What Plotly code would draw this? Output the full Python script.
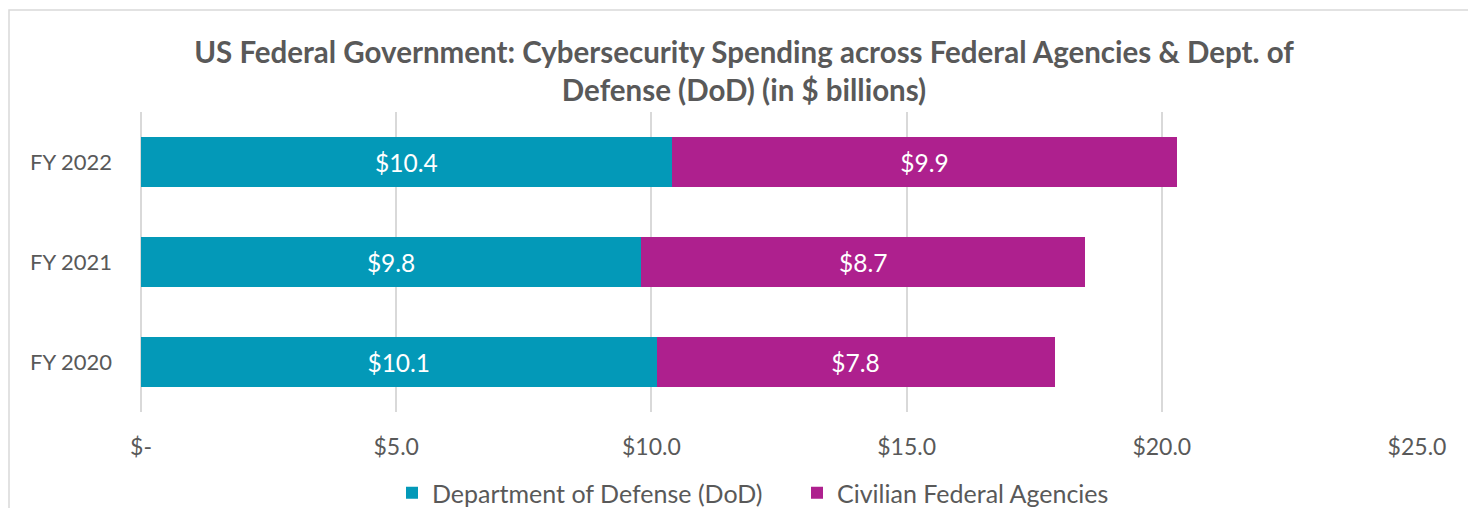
import plotly.graph_objects as go

categories = ["FY 2020", "FY 2021", "FY 2022"]
dod_values = [10.1, 9.8, 10.4]
civilian_values = [7.8, 8.7, 9.9]
series_names = ["Department of Defense (DoD)", "Civilian Federal Agencies"]
tick_values = [0, 5, 10, 15, 20, 25]
tick_labels = ["$-", "$5.0", "$10.0", "$15.0", "$20.0", "$25.0"]
title_text = "US Federal Government: Cybersecurity Spending across Federal Agencies & Dept. of<br>Defense (DoD) (in $ billions)"

FONT = "Lato"
GRAY = "#595959"
TEAL = "#0399B8"
MAGENTA = "#AE208E"

fig = go.Figure()
fig.add_trace(go.Bar(
    y=categories, x=dod_values, name=series_names[0], orientation="h",
    marker=dict(color=TEAL, line=dict(width=0)),
    text=[f"${v:.1f}" for v in dod_values], textposition="inside",
    insidetextanchor="middle", textfont=dict(color="white", size=24.5, family=FONT),
    width=0.5,
))
fig.add_trace(go.Bar(
    y=categories, x=civilian_values, name=series_names[1], orientation="h",
    marker=dict(color=MAGENTA, line=dict(width=0)),
    text=[f"${v:.1f}" for v in civilian_values], textposition="inside",
    insidetextanchor="middle", textfont=dict(color="white", size=24.5, family=FONT),
    width=0.5,
))

L, R, T, B = 141, 51, 112, 96
W, H = 1468, 508
pw, ph = W - L - R, H - T - B

fig.update_layout(
    width=W, height=H,
    margin=dict(l=L, r=R, t=T, b=B, autoexpand=False),
    barmode="stack",
    plot_bgcolor="white", paper_bgcolor="white",
    font=dict(family=FONT, color=GRAY, size=20),
    title=dict(text=title_text, x=744 / W, xanchor="center", y=1 - 63 / H, yanchor="middle",
               font=dict(family=FONT, size=29.5, color=GRAY, weight="bold")),
    xaxis=dict(range=[0, 25], tickvals=tick_values, ticktext=tick_labels,
               showgrid=True, gridcolor="#D9D9D9", gridwidth=1.5,
               zeroline=True, zerolinecolor="#D9D9D9", zerolinewidth=1.5,
               showline=False, ticks="", ticklabelstandoff=19,
               tickfont=dict(size=23, color=GRAY, family=FONT)),
    yaxis=dict(showgrid=False, zeroline=False, showline=False, ticks="",
               ticklabelstandoff=28,
               tickfont=dict(size=22, color=GRAY, family=FONT)),
    legend=dict(orientation="h", x=(392 - L) / pw, xanchor="left",
                y=(T + ph - 493) / ph, yanchor="middle",
                font=dict(size=25, color=GRAY, family=FONT),
                entrywidth=360, entrywidthmode="pixels",
                traceorder="normal"),
    showlegend=True,
    shapes=[dict(type="rect", xref="paper", yref="paper",
                 x0=(9 - L) / pw, x1=(1480 - L) / pw,
                 y0=(T + ph - 520) / ph, y1=(T + ph - 10) / ph,
                 line=dict(color="#D9D9D9", width=1.5), fillcolor="rgba(0,0,0,0)",
                 layer="below")],
)

fig.write_html("out.html")
